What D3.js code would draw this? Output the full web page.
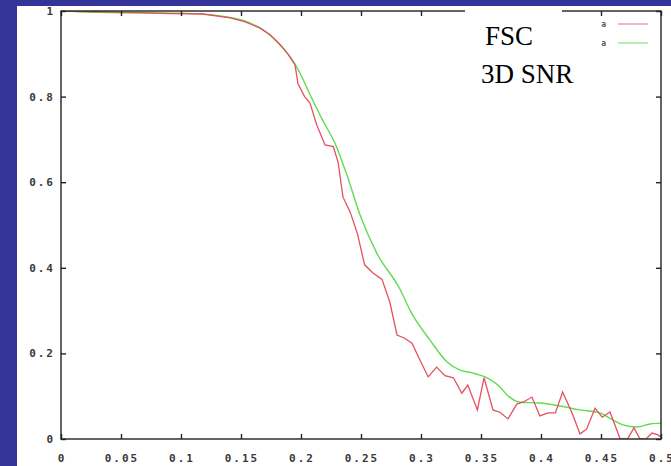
<!DOCTYPE html>
<html><head><meta charset="utf-8">
<script src="https://cdn.jsdelivr.net/npm/d3@7"></script>
<style>html,body{margin:0;padding:0;background:#333399;overflow:hidden}</style>
</head><body><svg id="c" width="671" height="466"></svg>
<script>
const fscX = [0,0.0325,0.066,0.091,0.118,0.141,0.153,0.166,0.174,0.183,0.189,0.195,0.1975,0.203,0.2075,0.213,0.22,0.227,0.231,0.235,0.241,0.247,0.253,0.26,0.2675,0.274,0.28,0.286,0.2925,0.299,0.306,0.313,0.32,0.327,0.334,0.339,0.347,0.3525,0.36,0.366,0.3725,0.38,0.385,0.3925,0.399,0.406,0.412,0.418,0.426,0.4325,0.438,0.445,0.451,0.4575,0.466,0.472,0.4775,0.4825,0.4875,0.4925,0.497,0.5];
const fscY = [1.0,0.998,0.996,0.994,0.993,0.984,0.975,0.96,0.945,0.92,0.90,0.874,0.83,0.80,0.785,0.735,0.687,0.683,0.645,0.565,0.53,0.48,0.407,0.388,0.373,0.32,0.243,0.236,0.224,0.185,0.145,0.168,0.148,0.143,0.107,0.126,0.068,0.143,0.068,0.062,0.047,0.082,0.086,0.098,0.054,0.061,0.061,0.11,0.06,0.012,0.023,0.072,0.051,0.063,0.0,0.0,0.026,0.0,0.0,0.014,0.01,0.005];
const snrX = [0,0.05,0.1,0.141,0.166,0.183,0.195,0.2,0.2075,0.218,0.2285,0.2385,0.249,0.263,0.2825,0.291,0.3075,0.3217,0.3325,0.3433,0.3533,0.366,0.3717,0.3825,0.399,0.4158,0.4325,0.449,0.46,0.4683,0.48,0.4908,0.5];
const snrY = [1.0,0.996,0.995,0.985,0.96,0.92,0.876,0.85,0.805,0.745,0.69,0.615,0.525,0.435,0.35,0.3,0.231,0.18,0.161,0.154,0.145,0.121,0.103,0.086,0.084,0.077,0.068,0.061,0.044,0.033,0.028,0.035,0.037];
const xTicks = [0,0.05,0.1,0.15,0.2,0.25,0.3,0.35,0.4,0.45,0.5];
const xTickLabels = ["0","0.05","0.1","0.15","0.2","0.25","0.3","0.35","0.4","0.45","0.5"];
const yTicks = [0,0.2,0.4,0.6,0.8,1];
const yTickLabels = ["0","0.2","0.4","0.6","0.8","1"];
const legendLabels = ["a","a"];
const annotation = ["FSC","3D SNR"];

const svg = d3.select("#c");
svg.append("rect").attr("x",0).attr("y",0).attr("width",671).attr("height",466).attr("fill","#333399");
svg.append("rect").attr("x",17).attr("y",6).attr("width",654).attr("height",460).attr("fill","#fff");

const L=61,R=661,T=11,B=439;
const x = d3.scaleLinear().domain([0,0.5]).range([L,R]);
const y = d3.scaleLinear().domain([0,1]).range([B,T]);

svg.append("clipPath").attr("id","clip").append("rect").attr("x",L).attr("y",T).attr("width",R-L).attr("height",B-T);

const lineGen = (xs,ys,curve)=>d3.line().curve(curve).x((d,i)=>x(xs[i])).y((d,i)=>y(ys[i]))(xs);
const g = svg.append("g").attr("clip-path","url(#clip)");
g.append("path").attr("d",lineGen(snrX,snrY,d3.curveMonotoneX)).attr("fill","none").attr("stroke","#5fdc50").attr("stroke-width",1.4);
g.append("path").attr("d",lineGen(fscX,fscY,d3.curveLinear)).attr("fill","none").attr("stroke","#e5505e").attr("stroke-width",1.3);

// frame
const stroke="#222";
svg.append("rect").attr("x",L).attr("y",T).attr("width",R-L).attr("height",B-T).attr("fill","none").attr("stroke",stroke).attr("stroke-width",1.4);

// axes with inward ticks
const axB = d3.axisBottom(x).tickValues(xTicks).tickSize(-5).tickFormat("");
const axT = d3.axisTop(x).tickValues(xTicks).tickSize(-5).tickFormat("");
const axL = d3.axisLeft(y).tickValues(yTicks).tickSize(-5).tickFormat("");
const axR = d3.axisRight(y).tickValues(yTicks).tickSize(-5).tickFormat("");
[[axB,`translate(0,${B})`],[axT,`translate(0,${T})`],[axL,`translate(${L},0)`],[axR,`translate(${R},0)`]].forEach(([a,t])=>{
  const gg = svg.append("g").attr("transform",t).call(a);
  gg.select(".domain").remove();
  gg.selectAll("line").attr("stroke",stroke).attr("stroke-width",1.4);
});

const labStyle = s=>s.attr("font-family","'DejaVu Sans Mono', monospace").attr("font-weight","bold").attr("font-size",11).attr("fill","#3a3a3a").attr("letter-spacing","2px");
xTicks.forEach((v,i)=>{
  labStyle(svg.append("text")).attr("x",x(v)+1).attr("y",462).attr("text-anchor","middle").text(xTickLabels[i]);
});
yTicks.forEach((v,i)=>{
  labStyle(svg.append("text")).attr("x",55).attr("y",y(v)+4).attr("text-anchor","end").text(yTickLabels[i]);
});

// white box over frame top for annotation
svg.append("rect").attr("x",465).attr("y",6).attr("width",97).attr("height",10).attr("fill","#fff");

svg.append("text").attr("x",485).attr("y",45).attr("font-family","'Liberation Serif', serif").attr("font-size",27).attr("fill","#000").text(annotation[0]);
svg.append("text").attr("x",481).attr("y",83).attr("font-family","'Liberation Serif', serif").attr("font-size",27).attr("fill","#000").text(annotation[1]);

// legend
const legColors = ["#ef9aa8","#8ee88a"];
legendLabels.forEach((t,i)=>{
  const yy = 24 + i*19;
  svg.append("text").attr("x",606).attr("y",yy+3).attr("text-anchor","end").attr("font-family","'DejaVu Sans Mono', monospace").attr("font-weight","bold").attr("font-size",8).attr("fill","#555").text(t);
  svg.append("line").attr("x1",618).attr("x2",648).attr("y1",yy).attr("y2",yy).attr("stroke",legColors[i]).attr("stroke-width",1.4);
});
</script></body></html>
